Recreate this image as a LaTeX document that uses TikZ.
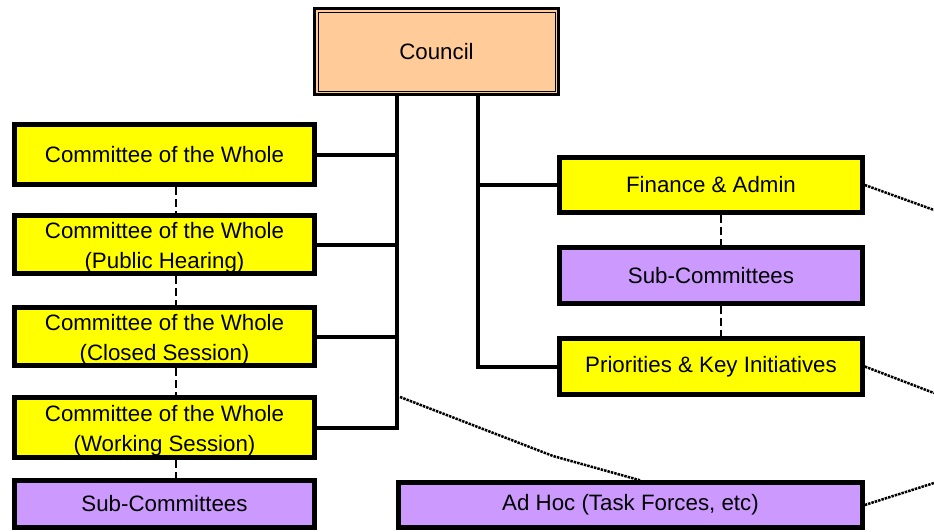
\documentclass[tikz,border=0pt]{standalone}
\usepackage{fontspec}
\setmainfont{Liberation Sans}
\usetikzlibrary{calc}
\definecolor{cyel}{HTML}{FFFF00}
\definecolor{cpur}{HTML}{CC99FF}
\definecolor{cpea}{HTML}{FFCC99}
\begin{document}
\begin{tikzpicture}[x=1pt,y=-1pt,
  txt/.style={align=center, inner sep=0pt, font=\fontsize{22.3}{30}\selectfont},
  box/.style={draw=black, line width=4.5pt, minimum width=300pt, txt},
  ybox/.style={box, fill=cyel},
  pbox/.style={box, fill=cpur},
  two/.style={txt, yshift=-3.5pt},
  conn/.style={line width=4pt},
  dashv/.style={line width=2.5pt, dash pattern=on 8pt off 4pt},
  dotl/.style={line width=2.5pt, dash pattern=on 2.5pt off 1pt}]
\useasboundingbox (0,0) rectangle (934,531);
% council
\node[draw=black, line width=3pt, fill=cpea, minimum width=244pt, minimum height=86pt,
  font=\fontsize{22.3}{30}\selectfont, inner sep=0pt] (council) at (436.5,51.5) {Council};
\draw[line width=1pt] ($(council.north west)+(5,5)$) rectangle ($(council.south east)+(-5,-5)$);
% left column
\node[ybox, minimum height=60pt] (cw1) at (164.5,154.5) {Committee of the Whole};
\node[ybox, minimum height=58pt] (cw2) at (164.5,244.5) {};
\node[two] (cw2t) at (cw2.center) {Committee of the Whole\\(Public Hearing)};
\node[ybox, minimum height=58pt] (cw3) at (164.5,336.5) {};
\node[two] (cw3t) at (cw3.center) {Committee of the Whole\\(Closed Session)};
\node[ybox, minimum height=60pt] (cw4) at (164.5,427.5) {};
\node[two] (cw4t) at (cw4.center) {Committee of the Whole\\(Working Session)};
\node[pbox, minimum height=47pt] (sub1) at (164.5,504) {Sub-Committees};
% right column
\node[ybox, minimum width=303pt, minimum height=55pt] (fin) at (711,185) {Finance \& Admin};
\node[pbox, minimum width=303pt, minimum height=56pt] (sub2) at (711,275.5) {Sub-Committees};
\node[ybox, minimum width=303pt, minimum height=56pt] (pri) at (711,366.5) {Priorities \& Key Initiatives};
\node[pbox, minimum width=464pt, minimum height=45pt] (adhoc) at (630.5,505) {Ad Hoc (Task Forces, etc)};
% trunks
\coordinate (tl) at (397,0);
\coordinate (tr) at (478,0);
\draw[conn] (council.south -| tl) |- (cw4.east);
\draw[conn] (cw1.east) -- (cw1.east -| tl);
\draw[conn] (cw2.east) -- (cw2.east -| tl);
\draw[conn] (cw3.east) -- (cw3.east -| tl);
\draw[conn] (council.south -| tr) |- (pri.west);
\draw[conn] (fin.west) -- (fin.west -| tr);
% dashed verticals
\coordinate (dl) at (176,0);
\coordinate (dr) at (721,0);
\draw[dashv] (cw1.south -| dl) -- (cw2.north -| dl);
\draw[dashv] (cw2.south -| dl) -- (cw3.north -| dl);
\draw[dashv] (cw3.south -| dl) -- (cw4.north -| dl);
\draw[dashv] (cw4.south -| dl) -- (sub1.north -| dl);
\draw[dashv] (fin.south -| dr) -- (sub2.north -| dr);
\draw[dashv] (sub2.south -| dr) -- (pri.north -| dr);
% dotted lines
\coordinate (e1) at (934,210);
\coordinate (e2) at (934,393);
\coordinate (e3) at (934,483);
\coordinate (ts) at (400,397);
\coordinate (tb) at (553,456);
\coordinate (ah) at (640,0);
\draw[dotl] (fin.east) -- (e1);
\draw[dotl] (pri.east) -- (e2);
\draw[dotl] (adhoc.east) -- (e3);
\draw[dotl] (ts) -- (tb) -- (adhoc.north -| ah);
\end{tikzpicture}
\end{document}
